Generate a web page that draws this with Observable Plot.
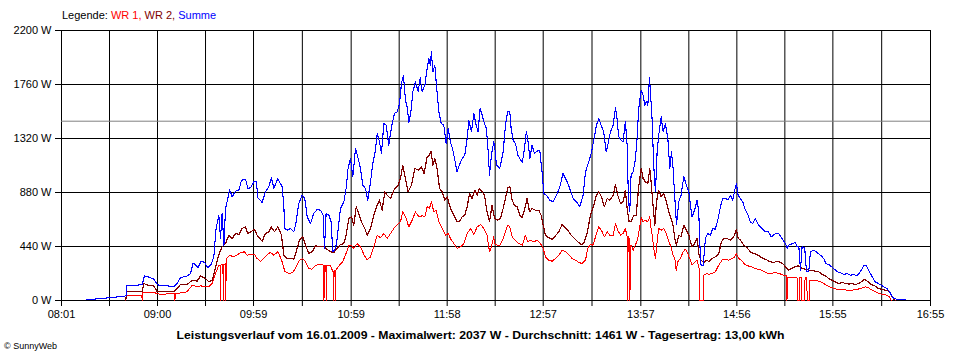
<!DOCTYPE html>
<html><head><meta charset="utf-8">
<script src="https://cdn.jsdelivr.net/npm/d3@7"></script>
<script src="https://cdn.jsdelivr.net/npm/@observablehq/plot@0.6"></script>
<style>
body{margin:0;background:#fff;}
#wrap{position:relative;width:960px;height:360px;font-family:"Liberation Sans",Arial,sans-serif;color:#000;}
#chart{position:absolute;left:0;top:0;}
#legend{position:absolute;left:62px;top:9px;font-size:11px;white-space:nowrap;}
#caption{position:absolute;left:0;width:960px;top:329px;text-align:center;font-size:11px;font-weight:bold;white-space:nowrap;}
#caption span{display:inline-block;transform-origin:center;}
#copy{position:absolute;left:4px;top:341px;font-size:9px;white-space:nowrap;}
</style></head>
<body>
<div id="wrap">
  <div id="chart"></div>
  <div id="legend"></div>
  <div id="caption"><span id="captext"></span></div>
  <div id="copy"></div>
</div>
<script>
// ---- text ----
const legendLabel = "Legende:";
const seriesNames = ["WR 1", "WR 2", "Summe"];
const seriesColors = ["#ff0000", "#800000", "#0000ff"];
const captionText = "Leistungsverlauf vom 16.01.2009 - Maximalwert: 2037 W - Durchschnitt: 1461 W - Tagesertrag: 13,00 kWh";
const copyrightText = "\u00A9 SunnyWeb";

// ---- axes ----
const xTickLabels = ["08:01","09:00","09:59","10:59","11:58","12:57","13:57","14:56","15:55","16:55"];
const yTicks = [0, 440, 880, 1320, 1760, 2200];
const averageW = 1461;

// ---- series: [minute of day, watts] ----
const summe = [[496.4,5],[500.9,11],[510.1,22],[519.3,35],[520.8,38],[521,120],[524.4,120],[527.5,125],[530.6,130],[532,200],[534.7,190],[537.7,174],[539.8,130],[541.8,120],[546,120],[550,111],[552,139],[554,185],[558.2,200],[560.3,220],[561.9,304],[563.3,293],[564.8,266],[566.8,320],[568.9,310],[570.9,266],[573,293],[574.6,356],[576,587],[577.7,695],[578.7,505],[579.7,709],[580.8,451],[581.8,750],[583.2,831],[584.2,904],[585.9,845],[587.9,891],[590,899],[591.6,980],[594.1,989],[595.5,913],[597.1,918],[599.2,967],[600.8,967],[601.6,837],[604.3,799],[606.3,885],[608.4,926],[610,1000],[611.5,913],[613.9,994],
[616.6,926],[617.6,777],[618.2,587],[619.7,573],[621.7,587],[623.8,560],[625.2,641],[626.8,790],[628.9,858],[630.5,831],[632,682],[634,627],[636,709],[638.1,741],[640.1,736],[641.8,695],[642.6,424],[643.6,709],[645.3,695],[646.7,641],[647.7,397],[649.4,424],[650.4,505],[652.4,750],[654.5,804],[655.9,913],[657.1,1076],[658.6,1157],[660,1008],[661.7,1239],[663.3,1157],[664.7,1076],[666.2,940],[667.8,913],[669.2,818],[670.9,967],[672.3,1116],[673.9,1225],[675,1361],[676.4,1293],[677.6,1198],[679.1,1442],[680.5,1429],[682.1,1266],[683.8,1415],[685.6,1524],[687.3,1537],[688.7,1605],[689.9,1768],[691.1,1836],[692.4,1632],[693.6,1564],[694.4,1450],[695.7,1537],[696.9,1700],[698.5,1782],[700.2,1700],[701.4,1814],[702.6,1700],[704.3,1755],[705.7,1890],[706.7,1972],[707.7,1918],[708.3,2026],[709.2,1863],[710.4,1918],[711.4,1755],[712.9,1537],[714.3,1442],[715.9,1429],[717.4,1279],[718.6,1401],[720,1293],[721.5,1225],[722.7,1143],[724.1,1048],[725.5,1103],[727.2,1157],[728.8,1184],[730.3,1320],[731.3,1469],[732.9,1374],[734.4,1524],[735.8,1429],[737,1374],[738.2,1564],[739.5,1510],[740.9,1442],[742.1,1401],[743.2,1211],[744,1021],[745.2,1184],[746.6,1293],
[747.1,1266],[748.3,1103],[750.3,1076],[752.4,1211],[753.8,1429],[755.2,1543],[756.5,1537],[757.3,1401],[758.5,1306],[760,1279],[761.4,1184],[762.6,1157],[764.1,1124],[765.1,1198],[766.7,1380],[767.7,1293],[768.8,1157],[770.2,1266],[771.6,1198],[773.3,1217],[774.9,1225],[776.3,1048],[777.4,872],[779,858],[781.1,818],[783.1,804],[785.2,858],[787.2,926],[789.2,1035],[791.3,980],[793.3,913],[795.4,831],[797.4,804],[799.5,763],[801.5,858],[803,1048],[805,1130],[806.5,1198],[808.1,1306],[809.7,1429],[811.2,1483],[812.6,1429],[814.2,1374],[815.7,1211],[816.9,1279],[818.3,1374],[820,1429],[821.4,1570],[822.4,1483],[823.4,1334],[824.9,1306],[826.1,1293],[827.5,1456],[828.6,1266],[829.4,804],[830.2,722],[831,1021],[832.3,1048],[833.7,1157],[834.7,1320],[835.7,1564],[837.2,1714],[838.4,1673],[839.4,1592],[840.4,1619],[841.3,1592],[842.3,1814],[842.9,1700],[843.9,1483],[844.9,1103],[846,885],[847,1211],[848,1347],[849.5,1497],[850.7,1374],[852.1,1442],[853.6,1320],[854.8,1076],[855.8,1211],[856.8,1076],[857.9,831],[858.9,619],[860.3,804],[861.7,858],[863.4,1008],[865,940],[866.5,885],[867.5,777],[868.5,682],[870,736],[871.6,818],[872.6,722],[873.2,478],[874,288],[875.3,288],[876.7,505],[878.1,546],[879.8,532],[881.2,587],[882.8,581],[884.5,668],[885.9,763],[887.3,831],[889,831],[890.6,818],[892,858],[893.5,818],[894.7,899],[895.7,953],[896.8,858],[898.2,831],[899.6,804],[901.3,736],[902.9,695],[904.3,641],[905.8,627],[907.4,668],[909.1,619],[911.1,592],[913.2,565],[915.2,560],[917.2,519],[919.7,546],[921.8,546],[923.8,505],[925.9,464],[926.9,424],[927.9,451],[930.4,464],[932,473],[933,437],[934.1,437],[935.1,247],[936.1,437],[937.7,429],[938.8,234],[940.2,234],[941.2,397],[943.3,410],[945.3,391],[947.4,369],[949.4,342],[950.8,301],[953,288],[955.5,261],[957.6,234],[959.6,228],[961.7,212],[963.7,220],[965.8,206],[967.8,212],[969.9,201],[971.9,234],[974,282],[975.4,288],[977,247],[979.1,193],[981.1,152],[982.8,139],[984.2,130],[986.3,111],[988.3,98],[989.8,71],[991,43],[992.4,16],[995.5,8],[999.6,5]];

const wr2 = [[520.5,0],[521,76],[530.6,76],[531.6,139],[534.7,120],[537.7,120],[539.8,71],[541.8,71],[546,76],[550,71],[552.1,98],[554.1,130],[558.2,130],[561.3,166],[564.4,158],[566.4,200],[569.5,179],[571.5,152],[573.6,166],[575,234],[576.7,329],[578.3,397],[579.7,437],[581.8,464],[583.8,532],[585.9,505],[587.9,546],[590,538],[592,587],[594.1,600],[595.5,546],[597.5,560],[599.6,581],[601.2,532],[604.3,483],[606.3,546],[608.4,560],[609.8,600],[611.9,560],[613.9,600],
[616.2,532],[617.6,369],[619.7,342],[621.7,342],[623.8,337],[625.2,397],[627.2,492],[629.3,519],[630.9,451],[633,383],[635,397],[637.1,445],[640.1,437],[642.2,437],[644.2,418],[646.3,397],[648.3,391],[650.4,424],[652.4,456],[654.5,464],[655.9,532],[657.6,668],[659.2,682],[660.6,614],[662.1,763],[663.7,709],[665.3,641],[667.4,587],[668.8,532],[670.9,587],[672.9,695],[675,777],[676.4,818],[678,736],[679.7,885],[681.1,858],[683.2,831],[685.2,899],[687.9,940],[689.3,994],[690.7,1103],[692.4,994],[694,885],[696.1,940],[698.1,1076],[700.2,1062],[702.2,1089],[703.8,1035],[705.7,1171],[707.1,1184],[708.1,1217],[709.2,1103],[710.4,1157],[711.8,1076],[713.3,913],[714.9,885],[716.5,818],[718,845],[719.4,777],[721,722],[722.7,682],[724.1,641],[725.5,641],[727.2,682],[728.8,695],[730.3,763],[731.7,872],[733.3,831],[735,899],[736.4,858],[737.8,913],[739.5,885],[740.9,858],[742.5,722],[744,641],[745.6,777],
[747.1,668],[748.7,655],[750.7,668],[752.4,750],[753.8,831],[755.2,918],[756.5,926],[757.9,818],[759.3,777],[761,763],[762.6,695],[764.1,674],[765.7,750],[767.1,831],[768.6,722],[770.2,750],[772.2,736],[774.3,736],[775.7,695],[777,614],[778.4,532],[780.4,511],[782.5,500],[784.5,527],[786.6,560],[788.6,619],[790.1,600],[792.1,573],[794.2,532],[796.2,505],[798.3,478],[800.3,456],[801.9,464],[804,546],[806,695],[808.1,777],[809.7,858],[811.2,885],[812.8,845],[814.6,763],[816.3,831],[817.9,818],[820,858],[821.4,945],[822.8,858],[824.5,790],[826.1,804],[827.5,899],[828.6,750],[829.8,641],[831,641],[832.7,695],[834.1,695],[835.7,926],[837.2,1076],[838.4,994],[839.8,967],[841.3,953],[842.5,1076],[843.3,967],[844.5,777],[845.6,614],[846.6,804],[848,899],[849.5,845],[851.1,872],[852.7,804],[854.2,722],[855.6,668],[856.8,614],[857.9,505],[858.9,451],[860.3,532],[861.7,519],[863.4,614],[865,573],[866.5,532],[867.5,478],[868.5,437],[870,464],[871.6,505],[872.8,369],[874,329],[875.7,310],[877.7,329],
[878.7,315],[880.8,342],[882.8,356],[884.9,383],[886.5,478],[888,505],[890,505],[892.1,492],[894.1,519],[895.7,581],[896.8,505],[898.2,492],[900.3,451],[902.3,429],[904.3,397],[906.4,383],[908.4,375],[910.5,356],[912.5,342],[914.6,329],[916.6,315],[918.7,310],[920.7,320],[922.8,310],[924.8,293],[925.9,274],[927.5,247],[929.5,261],[931.6,274],[933.6,282],[935.7,266],[937.7,255],[940.2,247],[942.2,247],[944.3,239],[946.3,234],[948.4,212],[950.4,201],[952.5,179],[954.5,166],[956.6,152],[958.6,139],[960.7,147],[962.7,139],[964.8,133],[966.8,139],[968.9,130],[970.9,139],[973,158],[974.6,174],[976.6,152],[978.7,130],[980.7,120],[982.8,98],[984.8,92],[986.9,84],[988.9,84],[990.4,57],[992.4,11],[993.5,0]];

const wr1 = [[520.5,0],[521,38],[530.4,38],[530.6,0],[530.9,65],[537.7,65],[539.8,57],[541.8,49],[546,54],[550.4,54],[550.7,0],[551,54],[554.1,62],[558.2,71],[561.3,125],[564.4,111],[566.4,120],[569.5,111],[571.5,111],[573.6,139],[575.6,220],[577.7,288],[578.6,288],[578.8,0],[579,290],[580.2,290],[580.4,0],[580.6,293],[581.8,300],[582,0],[582.2,342],[584.4,369],[586.5,356],[588.5,369],[591,388],[593.4,397],[595.1,369],[597.1,375],[599.6,375],[601.2,342],[603.3,320],[605.3,342],[607.4,375],[609.4,391],[611.5,369],[613.9,397],
[614.5,383],[616.6,315],[618.2,239],[620.7,220],[623.2,228],[625.2,274],[627.2,329],[629.3,342],[630.9,315],[633,261],[635,255],[637.1,288],[640.1,293],[642.1,288],[642.3,0],[642.5,288],[643.5,288],[643.7,0],[643.9,288],[646.3,288],[647.7,234],[648.2,240],[648.3,0],[648.5,240],[649.3,247],[649.4,0],[649.6,247],[651.8,288],[653.5,310],[655.5,369],[657.6,451],[659.2,451],[660.6,424],[662.7,464],[664.7,437],[666.8,375],[668.8,329],[670.9,356],[672.9,437],[675,532],[677,511],[679.1,546],[681.1,505],[683.2,546],[685.2,587],[687.3,619],[689.3,641],[690.7,722],[692.4,682],[694.4,600],[696.5,655],[698.5,722],[700.6,682],[702.6,690],[704.3,682],[705.7,763],[707.1,750],[708.3,804],[709.8,722],[711.2,736],[712.9,641],[714.9,587],[717,532],[718.6,546],[720,505],[722.1,464],[724.1,424],[726.2,437],[728.2,464],[730.3,546],[732.3,587],[734.4,538],[736.4,600],[738.5,619],[740.5,587],[742.5,532],[744,397],[745.2,437],[746.6,519],
[747.1,464],[748.7,451],[750.3,445],[752.4,505],[753.8,560],[755.2,614],[756.5,600],[757.9,519],[759.9,492],[762,464],[764.1,451],[766.1,532],[767.5,478],[769.2,492],[771.2,478],[773.3,492],[775.3,464],[777,424],[778.4,356],[780.4,329],[782.5,320],[784.5,342],[786.6,369],[788.6,410],[790.7,397],[792.7,375],[794.8,342],[796.8,329],[798.9,310],[800.9,301],[803,329],[804.4,424],[806,456],[807.7,451],[809.7,546],[811.2,600],[813.2,560],[814.6,519],[816.3,560],[817.9,532],[820,532],[821.4,627],[822.8,573],[824.5,532],[826.1,546],[827.5,587],[828.6,519],[828.9,0],[829.2,519],[830.1,500],[830.3,0],[830.6,451],[831,451],[832.3,410],[833.7,451],[835.1,505],[837.2,674],[838.4,641],[839.8,655],[841.3,641],[842.5,682],[843.3,587],[844.1,519],[844.9,424],[846,342],[847,478],[848,587],[849.5,573],[851.1,587],[852.7,546],[854.2,478],[855.6,437],[856.8,369],[857.9,342],[858.7,247],[859.7,315],[861.3,342],[863,397],[864.4,418],[865.8,383],[867.1,342],[868.5,288],[870,310],[871.6,329],[872.8,261],[873.1,0],[875.6,0],[875.8,206],[877.7,220],
[878.7,212],[880.8,220],[882.8,234],[884.9,288],[886.9,329],[889,337],[891,329],[893.1,342],[894.7,356],[895.7,383],[897.2,342],[898.8,329],[900.9,293],[902.9,282],[905,274],[907,261],[909.1,255],[911.1,247],[913.2,234],[915.2,220],[917.2,220],[919.7,228],[921.8,220],[923.8,212],[925.9,201],[926.6,201],[926.8,0],[927.1,185],[933,185],[933.2,0],[934.5,0],[934.7,185],[935.5,185],[935.7,0],[937.7,0],[937.9,185],[939,185],[939.2,0],[940.5,0],[940.8,163],[942.2,163],[946.3,158],[949.4,139],[951.5,120],[954.5,103],[957.6,92],[960.7,92],[963.7,84],[966.8,84],[969.9,90],[973,103],[975,111],[977,103],[979.1,84],[981.1,71],[983.2,57],[986.3,49],[988.3,43],[989.8,30],[991,0]];

// ---- helpers ----
const toMin = s => { const [h, m] = s.split(":").map(Number); return h * 60 + m; };
const labeledTicks = xTickLabels.map(toMin);
const midTicks = d3.pairs(labeledTicks).map(([a, b]) => (a + b) / 2);
const allTicks = labeledTicks.concat(midTicks).sort((a, b) => a - b);
const labelMap = new Map(labeledTicks.map((t, i) => [t, xTickLabels[i]]));
const rows = arr => arr.map(([t, w]) => ({t, w}));

const chart = Plot.plot({
  width: 960,
  height: 360,
  marginLeft: 61,
  marginRight: 30,
  marginTop: 30,
  marginBottom: 60,
  style: {fontFamily: "'Liberation Sans', Arial, sans-serif", fontSize: "11px", color: "#000", background: "#fff", overflow: "visible"},
  x: {domain: [labeledTicks[0], labeledTicks[labeledTicks.length - 1]]},
  y: {domain: [yTicks[0], yTicks[yTicks.length - 1]]},
  marks: [
    Plot.ruleX(allTicks, {x: d => d, stroke: "#000", strokeWidth: 1}),
    Plot.ruleY(yTicks, {y: d => d, stroke: "#000", strokeWidth: 1}),
    Plot.ruleY([averageW], {y: d => d, stroke: "#808080", strokeWidth: 1}),
    Plot.line(rows(wr1), {x: "t", y: "w", stroke: seriesColors[0], strokeWidth: 1, shapeRendering: "crispEdges"}),
    Plot.line(rows(wr2), {x: "t", y: "w", stroke: seriesColors[1], strokeWidth: 1.2, shapeRendering: "crispEdges"}),
    Plot.line(rows(summe), {x: "t", y: "w", stroke: seriesColors[2], strokeWidth: 1.1, shapeRendering: "crispEdges"}),
    Plot.axisY({ticks: yTicks, tickFormat: d => d + " W", tickSize: 6, tickPadding: 4, label: null, stroke: "#000"}),
    Plot.axisX({ticks: allTicks, tickFormat: d => labelMap.get(d) ?? "", tickSize: 6, tickPadding: 4, label: null, stroke: "#000"})
  ]
});
document.getElementById("chart").appendChild(chart);

// legend
const legend = document.getElementById("legend");
const lead = document.createElement("span");
lead.textContent = legendLabel + " ";
legend.appendChild(lead);
seriesNames.forEach((n, i) => {
  const s = document.createElement("span");
  s.style.color = seriesColors[i];
  s.textContent = n + (i < seriesNames.length - 1 ? ", " : "");
  legend.appendChild(s);
});

// caption
const cap = document.getElementById("captext");
cap.textContent = captionText;
const w = cap.getBoundingClientRect().width;
cap.style.transform = `scaleX(${608 / w})`;
document.getElementById("copy").textContent = copyrightText;
</script>
</body></html>
